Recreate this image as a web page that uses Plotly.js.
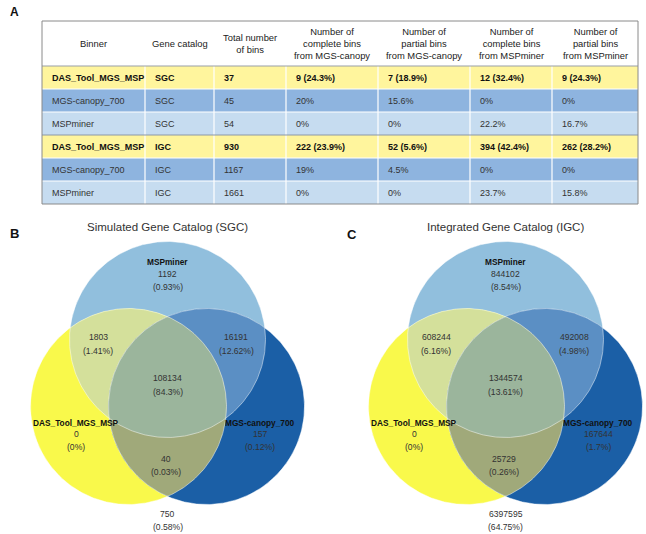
<!DOCTYPE html>
<html><head><meta charset="utf-8">
<script src="https://cdn.plot.ly/plotly-3.0.1.min.js"></script>
<style>body{margin:0;background:#fff}</style>
</head><body><div id="chart" style="width:646px;height:534px"></div>
<script>
// ---------- Table data ----------
const headers = ["Binner","Gene catalog","Total number<br>of bins","Number of<br>complete bins<br>from MGS-canopy","Number of<br>partial bins<br>from MGS-canopy","Number of<br>complete bins<br>from MSPminer","Number of<br>partial bins<br>from MSPminer"];
const binners = ["DAS_Tool_MGS_MSP","MGS-canopy_700","MSPminer","DAS_Tool_MGS_MSP","MGS-canopy_700","MSPminer"];
const catalogs = ["SGC","SGC","SGC","IGC","IGC","IGC"];
const totalBins = [37,45,54,930,1167,1661];
const completeCanopy = ["9 (24.3%)","20%","0%","222 (23.9%)","19%","0%"];
const partialCanopy = ["7 (18.9%)","15.6%","0%","52 (5.6%)","4.5%","0%"];
const completeMSP = ["12 (32.4%)","0%","22.2%","394 (42.4%)","0%","23.7%"];
const partialMSP = ["9 (24.3%)","0%","16.7%","262 (28.2%)","0%","15.8%"];

// ---------- Venn data ----------
const setNames = ["MSPminer","DAS_Tool_MGS_MSP","MGS-canopy_700"];
const regionKeys = ["T","L","R","TL","TR","LR","TLR","none"];
const sgcCounts = [1192,0,157,1803,16191,40,108134,750];
const sgcPct = ["0.93%","0%","0.12%","1.41%","12.62%","0.03%","84.3%","0.58%"];
const igcCounts = [844102,0,167644,608244,492008,25729,1344574,6397595];
const igcPct = ["8.54%","0%","1.7%","6.16%","4.98%","0.26%","13.61%","64.75%"];
const vennTitles = ["Simulated Gene Catalog (SGC)","Integrated Gene Catalog (IGC)"];

// ---------- Styles / layout ----------
const FONT = "Arial, 'Liberation Sans', sans-serif";
const rowColors = ["#fff59d","#8eb4df","#c6dcf0","#fff59d","#8eb4df","#c6dcf0"];
const boldRow = [true,false,false,true,false,false];
const regionColors = {T:"#91bfdd", L:"#f9f94b", R:"#1b5fa6", TL:"#d4e09b", TR:"#5b8fc4", LR:"#a0a97a", TLR:"#9bb59c"};
const colEdges = [42,145,214,286,378,470,552,638];
const headTop = 21, headBot = 66, rowH = 23;

const traces = [];
const shapes = [];
const annotations = [];
function ann(x,y,text,size,color,extra){
  annotations.push(Object.assign({x:x,y:y,xref:"x",yref:"y",text:text,showarrow:false,
    xanchor:"center",yanchor:"middle",align:"center",font:{family:FONT,size:size,color:color}},extra||{}));
}

// ---------- Table (cells through the x/y pixel axes) ----------
const columns = [binners,catalogs,totalBins,completeCanopy,partialCanopy,completeMSP,partialMSP];
const nRows = binners.length;
const tableBot = headBot + nRows*rowH;
rowColors.forEach((c,i)=>{
  shapes.push({type:"rect",xref:"x",yref:"y",x0:colEdges[0],x1:colEdges[colEdges.length-1],
    y0:headBot+i*rowH,y1:headBot+(i+1)*rowH,fillcolor:c,line:{width:0},layer:"below"});
});
for(let j=1;j<colEdges.length-1;j++){
  shapes.push({type:"line",xref:"x",yref:"y",x0:colEdges[j],x1:colEdges[j],y0:headBot,y1:tableBot,
    line:{color:"#ffffff",width:1.2},layer:"below"});
}
for(let i=1;i<nRows;i++){
  const sep = (i===3);
  shapes.push({type:"line",xref:"x",yref:"y",x0:colEdges[0],x1:colEdges[colEdges.length-1],
    y0:headBot+i*rowH,y1:headBot+i*rowH,line:{color:sep?"#8c98a8":"#ffffff",width:sep?1.2:1.2},layer:"below"});
}
shapes.push({type:"line",xref:"x",yref:"y",x0:colEdges[0],x1:colEdges[colEdges.length-1],y0:headBot,y1:headBot,
  line:{color:"#9aa0a8",width:1.2},layer:"below"});
shapes.push({type:"rect",xref:"x",yref:"y",x0:colEdges[0],x1:colEdges[colEdges.length-1],y0:headTop,y1:tableBot,
  line:{color:"#8a8a8a",width:1},layer:"below"});
headers.forEach((h,j)=>{
  ann((colEdges[j]+colEdges[j+1])/2, (headTop+headBot)/2, h, 9.4, "#222");
});
columns.forEach((col,j)=>{
  col.forEach((v,i)=>{
    const t = boldRow[i] ? "<b>"+v+"</b>" : String(v);
    ann(colEdges[j]+8, headBot+(i+0.5)*rowH, t, 9, boldRow[i]?"#111":"#333", {xanchor:"left",align:"left"});
  });
});

// ---------- Venn diagrams ----------
const R0 = 98;
const offsets = [0, 338];
function circlesFor(ox){
  return {T:[167.5+ox,339.5], L:[128.5+ox,406.5], R:[206.5+ox,406.5]};
}
function inside(p,c){ return Math.hypot(p[0]-c[0],p[1]-c[1]) <= R0+1e-6; }
function regionPoly(cs){
  const pts=[];
  cs.forEach((c,i)=>{
    for(let k=0;k<720;k++){
      const a=k/720*2*Math.PI;
      const p=[c[0]+R0*Math.cos(a), c[1]+R0*Math.sin(a)];
      if(cs.every((o,j)=> j===i || inside(p,o))) pts.push(p);
    }
  });
  const mx=pts.reduce((s,p)=>s+p[0],0)/pts.length, my=pts.reduce((s,p)=>s+p[1],0)/pts.length;
  pts.sort((a,b)=>Math.atan2(a[1]-my,a[0]-mx)-Math.atan2(b[1]-my,b[0]-mx));
  pts.push(pts[0]);
  return pts;
}
offsets.forEach(ox=>{
  const C = circlesFor(ox);
  ["T","L","R","TL","TR","LR","TLR"].forEach(key=>{
    const cs = key.split("").map(k=>C[k]);
    const poly = regionPoly(cs);
    traces.push({type:"scatter", mode:"lines", x:poly.map(p=>p[0]), y:poly.map(p=>p[1]),
      fill:"toself", fillcolor:regionColors[key], line:{width:0, color:regionColors[key]},
      hoverinfo:"skip", showlegend:false});
  });
  ["T","L","R"].forEach(k=>{
    const xs=[],ys=[];
    for(let i=0;i<=360;i++){const a=i/360*2*Math.PI; xs.push(C[k][0]+R0*Math.cos(a)); ys.push(C[k][1]+R0*Math.sin(a));}
    traces.push({type:"scatter",mode:"lines",x:xs,y:ys,line:{color:"rgba(255,255,255,0.6)",width:0.8},hoverinfo:"skip",showlegend:false});
  });
});

const labelPos = {
  T:{x:167.5, lab:262, num:274, pct:287},
  L:{x:76, lab:423, num:434, pct:447},
  R:{x:260, lab:423, num:434, pct:447},
  TL:{x:98, num:337, pct:351},
  TR:{x:236, num:337, pct:351},
  LR:{x:166, num:459, pct:472},
  TLR:{x:167.5, num:378, pct:392},
  none:{x:167.5, num:514, pct:527}
};
const setKey = {T:0, L:1, R:2};
[[sgcCounts,sgcPct],[igcCounts,igcPct]].forEach((d,vi)=>{
  const ox = offsets[vi];
  regionKeys.forEach((k,i)=>{
    const p = labelPos[k];
    if(p.lab!==undefined) ann(p.x+ox, p.lab, "<b>"+setNames[setKey[k]]+"</b>", 8.3, "#111");
    ann(p.x+ox, p.num, String(d[0][i]), 8.6, "#333");
    ann(p.x+ox, p.pct, "("+d[1][i]+")", 8.6, "#333");
  });
  ann(167.5+ox, 227, vennTitles[vi], 11.5, "#333");
});
ann(14, 12, "<b>A</b>", 12, "#111");
ann(14, 233, "<b>B</b>", 13, "#111");
ann(352, 234, "<b>C</b>", 13, "#111");

const layout = {
  width:646, height:534, margin:{l:0,r:0,t:0,b:0},
  paper_bgcolor:"#fff", plot_bgcolor:"rgba(0,0,0,0)",
  xaxis:{range:[0,646], visible:false, fixedrange:true},
  yaxis:{range:[534,0], visible:false, fixedrange:true},
  showlegend:false,
  annotations:annotations,
  shapes:shapes
};
Plotly.newPlot("chart", traces, layout, {staticPlot:true, displayModeBar:false});
</script></body></html>
